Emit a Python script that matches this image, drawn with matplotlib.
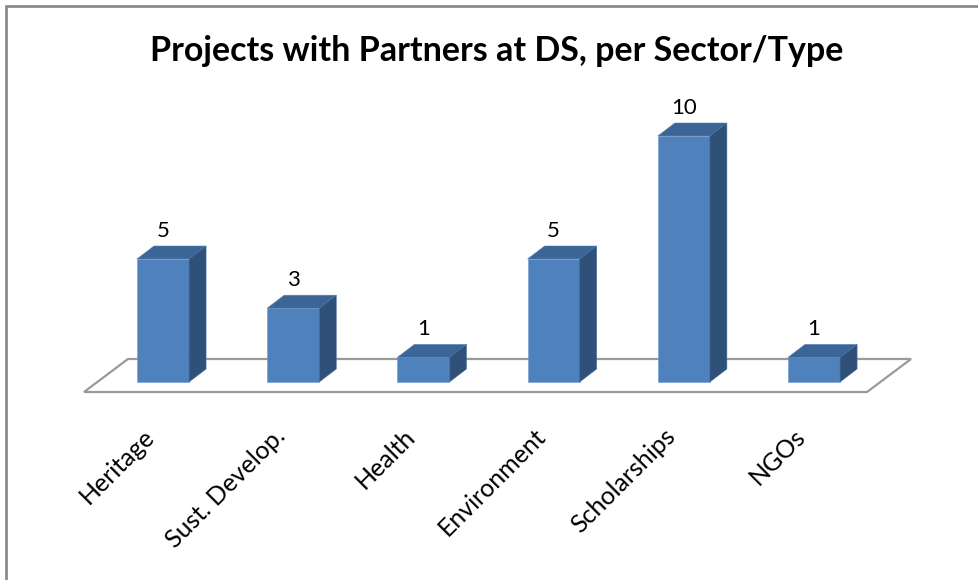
import matplotlib
matplotlib.use("Agg")
import matplotlib.pyplot as plt
from matplotlib.patches import Polygon, Rectangle

categories = ["Heritage", "Sust. Develop.", "Health", "Environment", "Scholarships", "NGOs"]
values = [5, 3, 1, 5, 10, 1]
title = "Projects with Partners at DS, per Sector/Type"

FRONT = "#4F81BD"
TOP = "#3B6596"
SIDE = "#2F5179"
FONT = ["Lato", "DejaVu Sans"]

fig = plt.figure(figsize=(9.79, 5.80), dpi=100)
ax = fig.add_axes([0, 0, 1, 1])
ax.set_xlim(-1.252, 6.267)
ax.set_ylim(-8.049, 15.528)
ax.axis("off")

# outer frame
fig.patches.append(Rectangle((6 / 979, -0.1), 1.2, 1 - 6 / 580 + 0.1,
                             transform=fig.transFigure, fill=False,
                             edgecolor="#8c8c8c", linewidth=2.0))

# floor
n = len(categories)
fy0, fy1 = -0.407, 0.935
floor = Polygon([(-0.607, fy0), (n - 1 + 0.407, fy0), (n - 1 + 0.745, fy1), (-0.269, fy1)],
                closed=True, facecolor="white", edgecolor="#9a9a9a", linewidth=1.6, zorder=1)
ax.add_patch(floor)

w = 0.4
dx, dy = 0.1306, 0.528
xs = list(range(n))
ax.bar(xs, values, width=w, color=FRONT, edgecolor="#6f9bd0", linewidth=0.4, zorder=3)
for x, v in zip(xs, values):
    l, r = x - w / 2, x + w / 2
    top = Polygon([(l, v), (r, v), (r + dx, v + dy), (l + dx, v + dy)], closed=True,
                  facecolor=TOP, edgecolor="#5a82b5", linewidth=0.4, zorder=3)
    side = Polygon([(r, 0), (r + dx, dy), (r + dx, v + dy), (r, v)], closed=True,
                   facecolor=SIDE, edgecolor="#4a6e9c", linewidth=0.4, zorder=3)
    ax.add_patch(top)
    ax.add_patch(side)
    ax.text(x, v + dy + 0.22, str(v), ha="center", va="bottom", fontsize=16,
            family=FONT, color="black", zorder=4)

for x, c in zip(xs, categories):
    ax.text(x - 0.03, -1.72, c, rotation=45, ha="right", va="top", fontsize=18,
            family=FONT, color="black")

fig.text(497 / 979, 1 - 51 / 580, title, ha="center", va="center", fontsize=24.5,
         fontweight="bold", family=FONT, color="black")

fig.savefig("out.png", dpi=100, facecolor="white")
